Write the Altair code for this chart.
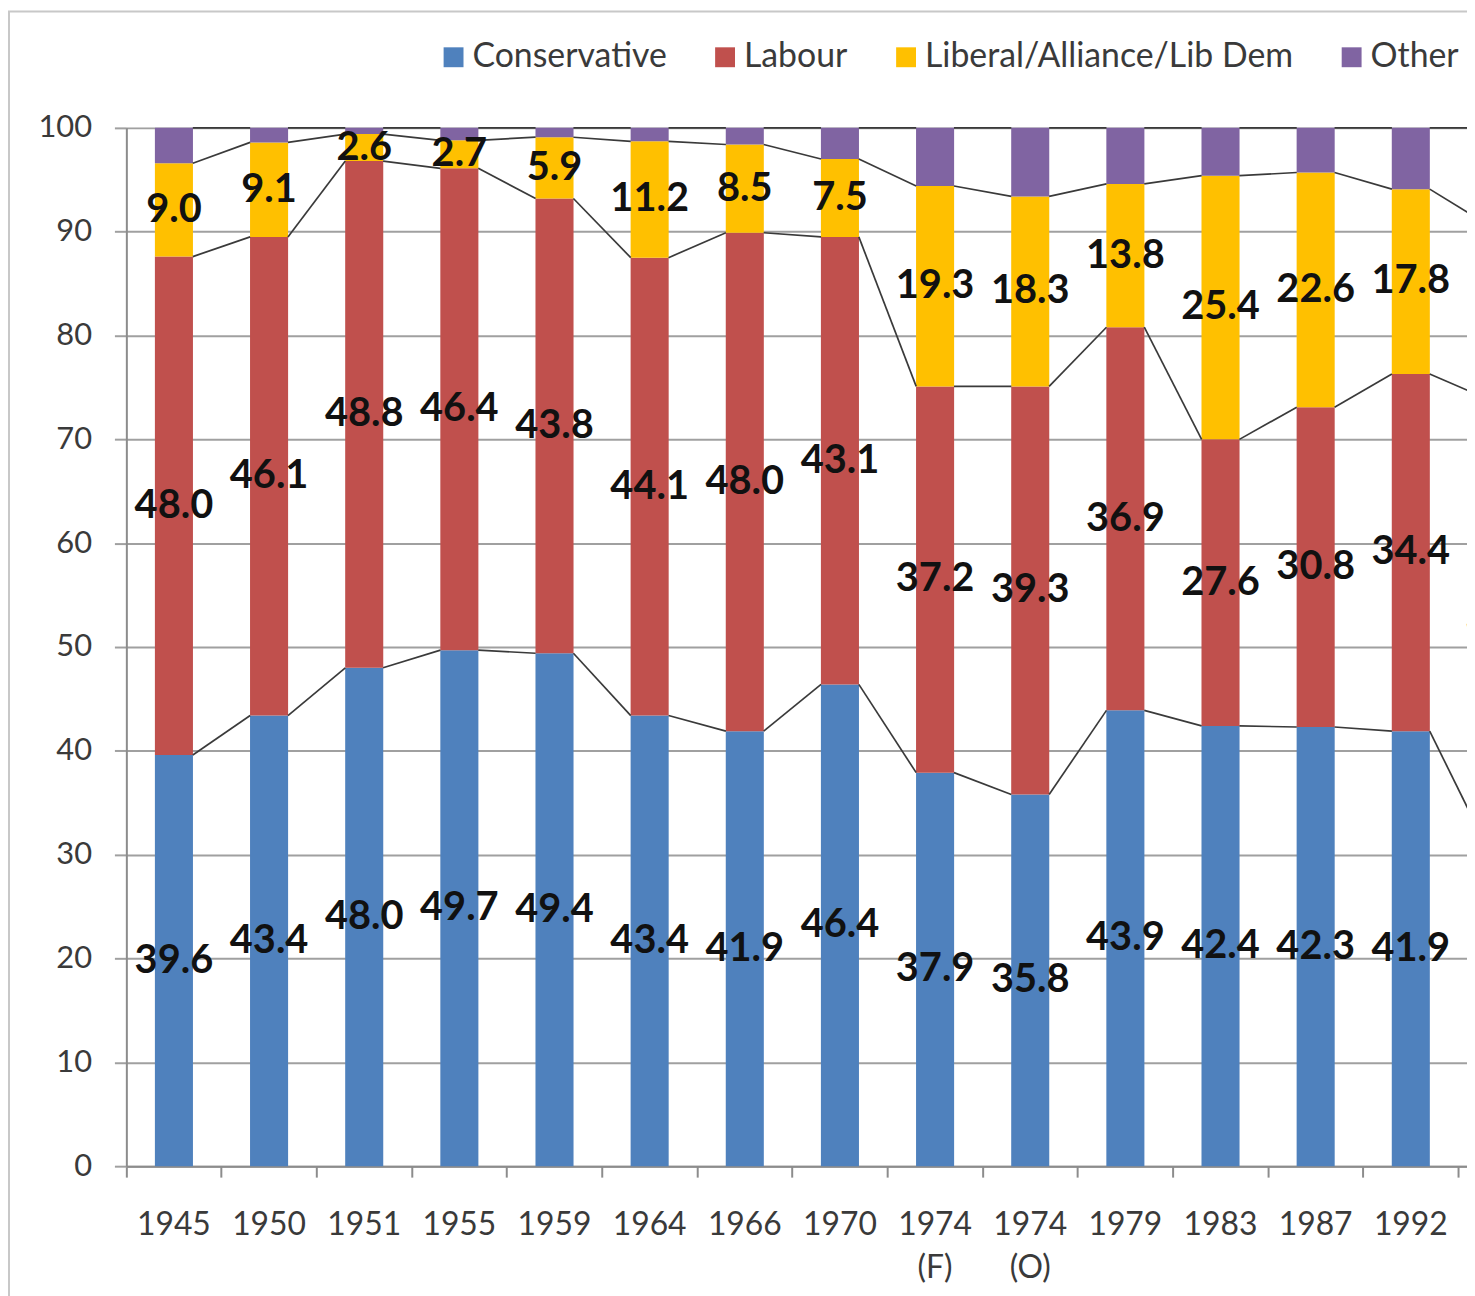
import altair as alt
import pandas as pd

years = ["1945", "1950", "1951", "1955", "1959", "1964", "1966", "1970",
         "1974|(F)", "1974|(O)", "1979", "1983", "1987", "1992", "1997"]
parties = ["Conservative", "Labour", "Liberal/Alliance/Lib Dem", "Other"]
colors = ["#4F81BD", "#C0504D", "#FFC000", "#8064A2"]

conservative = [39.6, 43.4, 48.0, 49.7, 49.4, 43.4, 41.9, 46.4, 37.9, 35.8, 43.9, 42.4, 42.3, 41.9, 30.7]
labour       = [48.0, 46.1, 48.8, 46.4, 43.8, 44.1, 48.0, 43.1, 37.2, 39.3, 36.9, 27.6, 30.8, 34.4, 43.2]
liberal      = [9.0, 9.1, 2.6, 2.7, 5.9, 11.2, 8.5, 7.5, 19.3, 18.3, 13.8, 25.4, 22.6, 17.8, 16.8]
other        = [3.4, 1.4, 0.6, 1.2, 0.9, 1.3, 1.6, 3.0, 5.6, 6.6, 5.4, 4.6, 4.3, 5.9, 9.3]

series = [conservative, labour, liberal, other]

rows = []
tops = {p: [] for p in parties}
for i, yr in enumerate(years):
    base = 0.0
    for p, vals in zip(parties, series):
        v = vals[i]
        rows.append({"year": yr, "party": p, "value": v, "y0": base, "y1": base + v,
                     "mid": base + v / 2, "labelled": p != "Other"})
        base += v
        tops[p].append(base)
bars_df = pd.DataFrame(rows)

line_rows = []
for p in parties:
    for i in range(len(years) - 1):
        line_rows.append({"year": years[i], "year2": years[i + 1],
                          "top": tops[p][i], "top2": tops[p][i + 1], "party": p})
lines_df = pd.DataFrame(line_rows)

FONT = "Lato"
STEP_RANGE = [0, 1435]

xscale = alt.Scale(domain=years, range=STEP_RANGE, paddingInner=0, paddingOuter=0)
yscale = alt.Scale(domain=[0, 100], nice=False)

x_enc = alt.X("year:N", sort=years, scale=xscale, title=None,
              axis=alt.Axis(bandPosition=0, labelAngle=0,
                            labelExpr="split(datum.label, '|')",
                            labelFont=FONT, labelFontSize=32, labelColor="#3A3A3A",
                            labelLineHeight=43, labelPadding=33, labelBaseline="top",
                            tickSize=11, tickColor="#8C8C8C", tickWidth=2,
                            domainColor="#8C8C8C", domainWidth=2, grid=False))
y_enc = alt.Y("y0:Q", scale=yscale, title=None,
              axis=alt.Axis(values=list(range(0, 101, 10)), grid=True,
                            gridColor="#A0A0A0", gridWidth=2,
                            tickSize=12, tickColor="#A0A0A0", tickWidth=2,
                            domainColor="#8C8C8C", domainWidth=2,
                            labelFont=FONT, labelFontSize=31, labelColor="#3A3A3A",
                            labelPadding=23))

frame = alt.Chart(pd.DataFrame({"a": [0]})).mark_rect(
    fill=None, stroke="#C8C8C8", strokeWidth=2
).encode(x=alt.value(-118), y=alt.value(-117), x2=alt.value(3000), y2=alt.value(3000))

bars = alt.Chart(bars_df).mark_bar(width=alt.RelativeBandSize(0.4)).encode(
    x=x_enc,
    y=y_enc,
    y2="y1:Q",
    color=alt.Color("party:N", scale=alt.Scale(domain=parties, range=colors),
                    legend=alt.Legend(orient="none", legendX=312, legendY=-88,
                                      direction="horizontal", columns=4, title=None,
                                      symbolType="square", symbolSize=400,
                                      symbolStrokeWidth=0, labelFont=FONT,
                                      labelFontSize=34, labelOffset=2, labelLimit=0,
                                      columnPadding=41, labelColor="#3A3A3A",
                                      padding=0)),
)

lines = alt.Chart(lines_df).mark_rule(color="#3A3A3A", strokeWidth=1.7,
                                      xOffset=19, x2Offset=-19).encode(
    x=alt.X("year:N", sort=years, scale=xscale),
    x2="year2:N",
    y=alt.Y("top:Q", scale=yscale),
    y2="top2:Q",
)

labels = alt.Chart(bars_df).transform_filter("datum.labelled").mark_text(
    font=FONT, fontWeight="bold", fontSize=40, color="#111111", baseline="middle"
).encode(
    x=alt.X("year:N", sort=years, scale=xscale),
    y=alt.Y("mid:Q", scale=yscale),
    text=alt.Text("value:Q", format=".1f"),
)

chart = alt.layer(frame, bars, lines, labels).properties(
    width=1348, height=1044,
    autosize=alt.AutoSizeParams(type="none"),
    padding={"left": 119, "top": 117, "right": 0, "bottom": 127},
).configure_view(stroke=None).configure(background="white")

chart.save("out.html", embed_options={"renderer": "svg", "actions": False})
